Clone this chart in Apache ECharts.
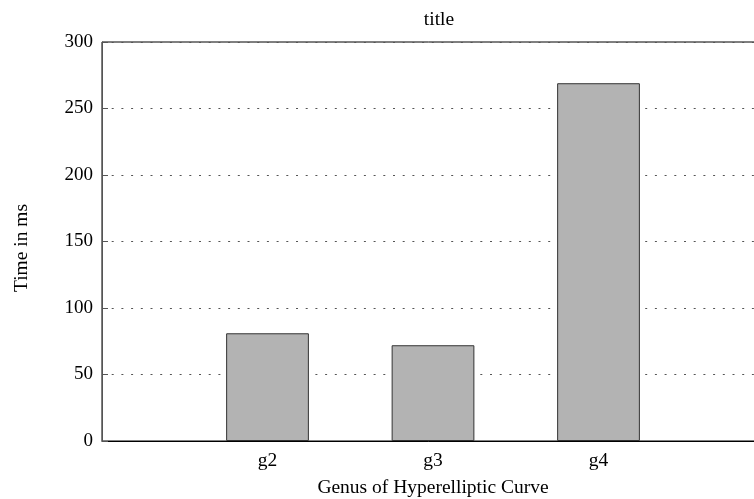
<!DOCTYPE html>
<html>
<head>
<meta charset="utf-8">
<script src="https://cdn.jsdelivr.net/npm/echarts@6/dist/echarts.min.js"></script>
<style>html,body{margin:0;padding:0;background:#fff;}#c{width:754px;height:499px;}</style>
</head>
<body>
<div id="c"></div>
<script>
var categories = ['g2', 'g3', 'g4'];
var times = [81, 72, 269];
var yTicks = [0, 50, 100, 150, 200, 250, 300];

var xCats = [''].concat(categories).concat(['']);
var yData = ['-'].concat(times).concat(['-']);
var FONT = 'Liberation Serif';

var chart = echarts.init(document.getElementById('c'), null, {renderer: 'canvas'});
chart.setOption({
  animation: false,
  backgroundColor: '#fff',
  textStyle: {fontFamily: FONT},
  title: {
    text: 'title', left: 434, top: 5, textAlign: 'center',
    textStyle: {fontFamily: FONT, fontSize: 19.5, fontWeight: 'normal', color: '#000'}
  },
  grid: {
    left: 102, top: 42, width: 662, height: 399,
    outerBoundsMode: 'none', containLabel: false,
    show: true, borderColor: '#000', borderWidth: 1, backgroundColor: 'transparent'
  },
  xAxis: {
    type: 'category', data: xCats, boundaryGap: false,
    name: 'Genus of Hyperelliptic Curve', nameLocation: 'middle', nameGap: 37,
    nameTextStyle: {fontFamily: FONT, fontSize: 19.5, color: '#000'},
    axisLine: {show: true, lineStyle: {color: '#000', width: 1}},
    axisTick: {show: false},
    axisLabel: {fontFamily: FONT, fontSize: 19.5, color: '#000', margin: 10},
    splitLine: {show: false}
  },
  yAxis: {
    type: 'value', min: yTicks[0], max: yTicks[yTicks.length - 1], interval: 50,
    name: 'Time in ms', nameLocation: 'middle', nameGap: 70,
    nameTextStyle: {fontFamily: FONT, fontSize: 19.5, color: '#000', padding: [0, 13, 0, 0]},
    axisLine: {show: true, lineStyle: {color: '#555', width: 1}},
    axisTick: {show: true, inside: true, length: 6, lineStyle: {color: '#555'}},
    axisLabel: {fontFamily: FONT, fontSize: 19, color: '#000', margin: 9},
    splitLine: {show: true, lineStyle: {color: '#555', width: 1, type: [2, 7.7]}}
  },
  series: [{
    type: 'bar', data: yData, barWidth: '50%',
    itemStyle: {color: '#b3b3b3', borderColor: '#333', borderWidth: 1}
  }]
});
</script>
</body>
</html>
